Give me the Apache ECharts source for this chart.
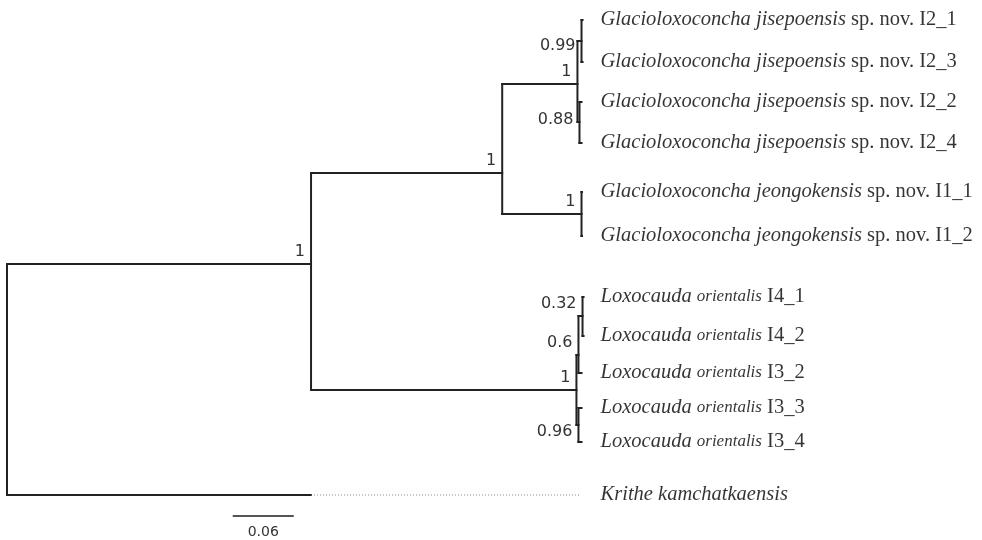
<!DOCTYPE html>
<html>
<head>
<meta charset="utf-8">
<script src="https://cdn.jsdelivr.net/npm/echarts@6/dist/echarts.min.js"></script>
<style>html,body{margin:0;padding:0;background:#fff}#c{width:982px;height:540px}</style>
</head>
<body>
<div id="c"></div>
<script>
// ---- Tree data (branch lengths in substitutions/site, rows in layout units) ----
const nodeIds     = ['root', 'A', 'B', 'C', 'D', 'E', 'J', 'L', 'F', 'H', 'G'];
const nodeParent  = [null, 'root', 'A', 'B', 'C', 'C', 'B', 'A', 'L', 'F', 'L'];
const nodeBranch  = [0, 0.299, 0.188, 0.074, 0.004, 0.002, 0.078, 0.261, 0.002, 0.004, 0.002];
const nodeRows    = [380, 264, 173, 84, 41, 122, 214, 390, 355, 316, 425];
const nodeSupport = ['', '1', '1', '1', '0.99', '0.88', '1', '1', '0.6', '0.32', '0.96'];

const tipItalic = ['Glacioloxoconcha jisepoensis', 'Glacioloxoconcha jisepoensis',
  'Glacioloxoconcha jisepoensis', 'Glacioloxoconcha jisepoensis',
  'Glacioloxoconcha jeongokensis', 'Glacioloxoconcha jeongokensis',
  'Loxocauda', 'Loxocauda', 'Loxocauda', 'Loxocauda', 'Loxocauda',
  'Krithe kamchatkaensis'];
const tipSmall  = ['', '', '', '', '', '', 'orientalis', 'orientalis', 'orientalis', 'orientalis', 'orientalis', ''];
const tipPlain  = ['sp. nov. I2_1', 'sp. nov. I2_3', 'sp. nov. I2_2', 'sp. nov. I2_4',
  'sp. nov. I1_1', 'sp. nov. I1_2', 'I4_1', 'I4_2', 'I3_2', 'I3_3', 'I3_4', ''];
const tipParent = ['D', 'D', 'E', 'E', 'J', 'J', 'H', 'H', 'F', 'G', 'G', 'root'];
const tipBranch = [0.001, 0.001, 0.002, 0.002, 0.0005, 0.0005, 0.001, 0.001, 0.003, 0.003, 0.003, 0.299];
const tipRows   = [20, 62, 102, 143, 192, 236, 297, 336, 373, 408, 442, 495];

const scaleBarStart = 0.222;
const scaleBarLength = 0.06;
const scaleBarLabel = '0.06';
const scaleBarRow = 516;

// ---- style-only settings ----
const supportDy = { D: 5, E: -2, G: 7 };
const SERIF = '"Liberation Serif", "Times New Roman", serif';
const SANS = '"DejaVu Sans", Verdana, sans-serif';
const TEXT = '#000';

// ---- build geometry from data ----
const xOf = {}, yOf = {};
nodeIds.forEach((id, i) => {
  xOf[id] = (nodeParent[i] ? xOf[nodeParent[i]] : 0) + nodeBranch[i];
  yOf[id] = nodeRows[i];
});
const tipX = tipParent.map((p, i) => xOf[p] + tipBranch[i]);
const tipMaxX = Math.max(...tipX);

const solid = [];
const childYs = {};
nodeIds.forEach((id, i) => {
  const p = nodeParent[i];
  if (p) {
    solid.push([xOf[p], yOf[id], xOf[id], yOf[id]]);
    (childYs[p] = childYs[p] || []).push(yOf[id]);
  }
});
tipParent.forEach((p, i) => {
  solid.push([xOf[p], tipRows[i], tipX[i], tipRows[i]]);
  (childYs[p] = childYs[p] || []).push(tipRows[i]);
});
nodeIds.forEach(id => {
  const ys = childYs[id];
  solid.push([xOf[id], Math.min(...ys), xOf[id], Math.max(...ys)]);
});
const dotted = [];
tipX.forEach((x, i) => {
  if (tipMaxX - x > 0.01) dotted.push([x, tipRows[i], tipMaxX, tipRows[i]]);
});
const supports = nodeIds.map((id, i) => [xOf[id], yOf[id], i]).filter(d => nodeSupport[d[2]] !== '');
const tips = tipRows.map((r, i) => [tipMaxX, r, i]);

function segRender(color, width, dash, trimEnd) {
  return function (params, api) {
    const p1 = api.coord([api.value(0), api.value(1)]);
    const p2 = api.coord([api.value(2), api.value(3)]);
    return {
      type: 'line',
      shape: { x1: p1[0], y1: p1[1], x2: p2[0] - (trimEnd || 0), y2: p2[1] },
      style: { stroke: color, lineWidth: width, lineCap: dash ? 'butt' : 'square', lineDash: dash || null }
    };
  };
}

const chart = echarts.init(document.getElementById('c'), null, { renderer: 'canvas' });
chart.setOption({
  animation: false,
  backgroundColor: '#fff',
  grid: { left: 7, right: 9, top: 0, bottom: 0 },
  xAxis: { type: 'value', min: 0, max: 0.95, show: false },
  yAxis: { type: 'value', min: 0, max: 540, inverse: true, show: false },
  series: [
    {
      type: 'custom', silent: true, data: solid,
      dimensions: ['x1', 'y1', 'x2', 'y2'], encode: { x: [0, 2], y: [1, 3] },
      renderItem: segRender('#222', 2, null, 0)
    },
    {
      type: 'custom', silent: true, data: dotted,
      dimensions: ['x1', 'y1', 'x2', 'y2'], encode: { x: [0, 2], y: [1, 3] },
      renderItem: segRender('#888', 1, [1, 2], 4)
    },
    {
      type: 'custom', silent: true,
      data: [[scaleBarStart, scaleBarRow, scaleBarStart + scaleBarLength, scaleBarRow]],
      dimensions: ['x1', 'y1', 'x2', 'y2'], encode: { x: [0, 2], y: [1, 3] },
      renderItem: function (params, api) {
        const p1 = api.coord([api.value(0), api.value(1)]);
        const p2 = api.coord([api.value(2), api.value(3)]);
        return {
          type: 'group', children: [
            { type: 'line', shape: { x1: p1[0], y1: p1[1], x2: p2[0], y2: p2[1] }, style: { stroke: '#555', lineWidth: 2 } },
            { type: 'text', x: (p1[0] + p2[0]) / 2, y: p1[1] + 16,
              style: { text: scaleBarLabel, fill: '#333', font: '14px ' + SANS, align: 'center', verticalAlign: 'middle' } }
          ]
        };
      }
    },
    {
      type: 'custom', silent: true, data: supports,
      dimensions: ['x', 'y', 'idx'], encode: { x: 0, y: 1 },
      renderItem: function (params, api) {
        const p = api.coord([api.value(0), api.value(1)]);
        const i = api.value(2);
        const id = nodeIds[i];
        const dy = supportDy[id] !== undefined ? supportDy[id] : -12;
        return {
          type: 'text', x: p[0] - 6, y: p[1] + dy,
          style: { text: nodeSupport[i], fill: '#333', font: '16px ' + SANS, align: 'right', verticalAlign: 'middle' }
        };
      }
    },
    {
      type: 'scatter', silent: true, data: tips, symbolSize: 0,
      label: {
        show: true, position: 'right', distance: 17,
        color: TEXT, fontFamily: SERIF, fontSize: 20.5,
        formatter: function (p) {
          const i = p.data[2];
          let s = '{i|' + tipItalic[i] + '}';
          if (tipSmall[i]) s += ' {s|' + tipSmall[i] + '}';
          if (tipPlain[i]) s += ' {r|' + tipPlain[i] + '}';
          return s;
        },
        rich: {
          i: { fontStyle: 'italic', fontFamily: SERIF, fontSize: 20.5, color: TEXT },
          s: { fontStyle: 'italic', fontFamily: SERIF, fontSize: 17, color: TEXT },
          r: { fontFamily: SERIF, fontSize: 20.5, color: TEXT }
        }
      }
    }
  ]
});
</script>
</body>
</html>
